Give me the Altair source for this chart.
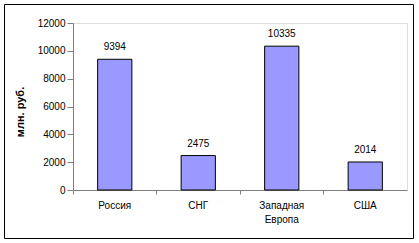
import altair as alt
import pandas as pd

categories = ["Россия", "СНГ", "Западная Европа", "США"]
values = [9394, 2475, 10335, 2014]
y_ticks = [0, 2000, 4000, 6000, 8000, 10000, 12000]

df = pd.DataFrame({"region": categories, "value": values})

W, H = 334, 167
PL, PT = 73, 23
FONT = "Liberation Sans"

xenc = alt.X("region:N", sort=categories, title=None,
             scale=alt.Scale(paddingInner=0, paddingOuter=0),
             axis=alt.Axis(bandPosition=0, labelAngle=0,
                           labelExpr="split(datum.label, ' ')",
                           labelFont=FONT, labelFontSize=10, labelColor="black",
                           labelPadding=6, labelLineHeight=14,
                           domainColor="#808080", tickColor="#808080", tickSize=4,
                           labelBaseline="top", labelOverlap=False))
yenc = alt.Y("value:Q", title="млн. руб.",
             scale=alt.Scale(domain=[0, 12000], nice=False),
             axis=alt.Axis(values=y_ticks, tickCount=7, grid=False, format="d",
                           labelFont=FONT, labelFontSize=10, labelColor="black",
                           domainColor="#808080", tickColor="#808080", tickSize=6,
                           labelPadding=2, labelOverlap=False,
                           titleFont=FONT, titleFontSize=11, titleFontWeight="bold",
                           titleColor="black", titlePadding=12, titleY=H / 2 + 5))

bars = alt.Chart(df).mark_bar(width=alt.RelativeBandSize(0.41), color="#9999FF",
                              stroke="black", strokeWidth=1).encode(x=xenc, y=yenc)

labels = alt.Chart(df).mark_text(font=FONT, fontSize=10, color="black",
                                 baseline="bottom", dy=-7).encode(
    x=xenc, y=yenc,
    text=alt.Text("value:Q", format="d"))

frame = alt.Chart(pd.DataFrame({"a": [0]})).mark_rect(
    fill=None, stroke="black", strokeWidth=1, clip=False).encode(
    x=alt.value(4.5 - PL), x2=alt.value(413.5 - PL),
    y=alt.value(4.5 - PT), y2=alt.value(238.5 - PT))

chart = alt.layer(bars, labels, frame).properties(
    width=W, height=H,
    autosize=alt.AutoSizeParams(type="none"),
    padding={"left": PL, "top": PT, "right": 419 - PL - W, "bottom": 243 - PT - H},
).configure_view(stroke=None).configure(background="white")

chart.save("out.html", embed_options={"renderer": "svg", "actions": False})
